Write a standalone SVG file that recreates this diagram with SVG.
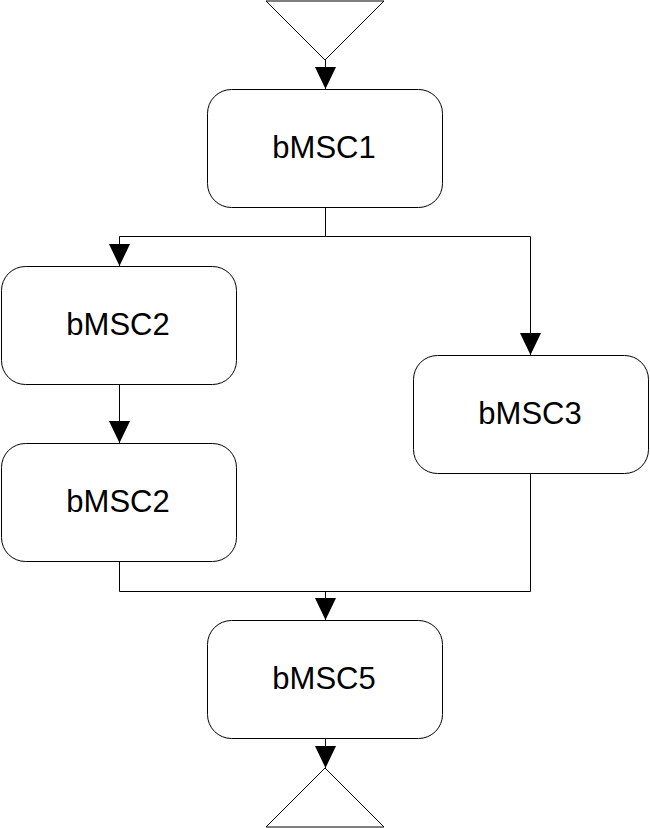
<svg xmlns="http://www.w3.org/2000/svg" width="650" height="828" viewBox="0 0 650 828">
<style>
.box{fill:#fff;stroke:#000;stroke-width:1}
.lbl{font-family:"Liberation Sans",Arial,sans-serif;font-size:31px;fill:#000;text-anchor:middle}
.tri{fill:#fff;stroke:#000;stroke-width:1}
.con{fill:none;stroke:#000;stroke-width:1}
</style>
<defs>
<marker id="ah" markerWidth="22" markerHeight="23" viewBox="0 0 23 22" refX="23" refY="11" orient="auto" markerUnits="userSpaceOnUse">
<path d="M0,0 L23,11 L0,22 Z" fill="#000"/>
</marker>
</defs>
<g id="start"><polygon class="tri" points="266,1 384,1 325,60"/></g>
<g id="end"><polygon class="tri" points="325,768 384,827 266,827"/></g>
<g id="bMSC1"><rect class="box" x="207.5" y="89.5" width="235" height="118" rx="24"/><text class="lbl" x="324" y="158">bMSC1</text></g>
<g id="bMSC2a"><rect class="box" x="1.5" y="266.5" width="235" height="118" rx="24"/><text class="lbl" x="118" y="335">bMSC2</text></g>
<g id="bMSC2b"><rect class="box" x="1.5" y="443.5" width="235" height="118" rx="24"/><text class="lbl" x="118" y="512">bMSC2</text></g>
<g id="bMSC3"><rect class="box" x="413.5" y="355.5" width="235" height="118" rx="24"/><text class="lbl" x="530" y="424">bMSC3</text></g>
<g id="bMSC5"><rect class="box" x="207.5" y="620.5" width="235" height="118" rx="24"/><text class="lbl" x="324" y="689">bMSC5</text></g>
<g id="connectors">
<path class="con" d="M325.5,60 V89" marker-end="url(#ah)"/>
<path class="con" d="M325.5,207 V236.5 H119.5 V266" marker-end="url(#ah)"/>
<path class="con" d="M325.5,236.5 H530.5 V355" marker-end="url(#ah)"/>
<path class="con" d="M119.5,384 V443" marker-end="url(#ah)"/>
<path class="con" d="M119.5,561 V591.5 H530.5 V473"/>
<path class="con" d="M325.5,591.5 V620" marker-end="url(#ah)"/>
<path class="con" d="M325.5,738 V768" marker-end="url(#ah)"/>
</g>
</svg>
